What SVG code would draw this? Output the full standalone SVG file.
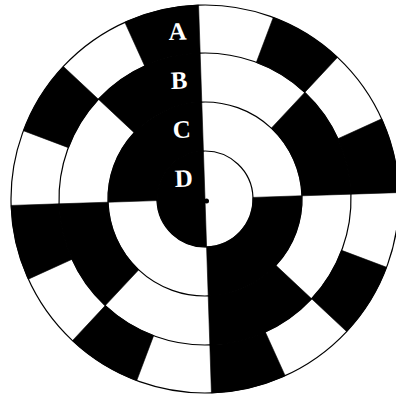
<svg xmlns="http://www.w3.org/2000/svg" width="396" height="396" viewBox="0 0 396 396">
  <style>
    .blk { fill: #000; stroke: #000; stroke-width: 0.6; stroke-linejoin: round; }
    .ring { fill: none; stroke: #000; stroke-width: 1.2; }
    .lbl { fill: #fff; font-family: "Liberation Serif", "Times New Roman", serif; font-weight: bold; font-size: 25px; text-anchor: middle; }
  </style>
  <rect x="0" y="0" width="396" height="396" fill="#fff"/>
  <g transform="translate(205,199) rotate(-1.9)">
    <g id="ringA">
      <path class="blk" d="M194,0 A194,194 0 0 0 179.23,-74.24 L134.89,-55.87 A146,146 0 0 1 146,0 Z"/>
      <path class="blk" d="M137.18,-137.18 A194,194 0 0 0 74.24,-179.23 L55.87,-134.89 A146,146 0 0 1 103.24,-103.24 Z"/>
      <path class="blk" d="M0,-194 A194,194 0 0 0 -74.24,-179.23 L-55.87,-134.89 A146,146 0 0 1 0,-146 Z"/>
      <path class="blk" d="M-137.18,-137.18 A194,194 0 0 0 -179.23,-74.24 L-134.89,-55.87 A146,146 0 0 1 -103.24,-103.24 Z"/>
      <path class="blk" d="M-194,0 A194,194 0 0 0 -179.23,74.24 L-134.89,55.87 A146,146 0 0 1 -146,0 Z"/>
      <path class="blk" d="M-137.18,137.18 A194,194 0 0 0 -74.24,179.23 L-55.87,134.89 A146,146 0 0 1 -103.24,103.24 Z"/>
      <path class="blk" d="M0,194 A194,194 0 0 0 74.24,179.23 L55.87,134.89 A146,146 0 0 1 0,146 Z"/>
      <path class="blk" d="M137.18,137.18 A194,194 0 0 0 179.23,74.24 L134.89,55.87 A146,146 0 0 1 103.24,103.24 Z"/>
    </g>
    <g id="ringB">
      <path class="blk" d="M146,0 A146,146 0 0 0 103.24,-103.24 L68.59,-68.59 A97,97 0 0 1 97,0 Z"/>
      <path class="blk" d="M0,-146 A146,146 0 0 0 -103.24,-103.24 L-68.59,-68.59 A97,97 0 0 1 0,-97 Z"/>
      <path class="blk" d="M-146,0 A146,146 0 0 0 -103.24,103.24 L-68.59,68.59 A97,97 0 0 1 -97,0 Z"/>
      <path class="blk" d="M0,146 A146,146 0 0 0 103.24,103.24 L68.59,68.59 A97,97 0 0 1 0,97 Z"/>
    </g>
    <g id="ringC">
      <path class="blk" d="M0,-97 A97,97 0 0 0 -97,0 L-48,0 A48,48 0 0 1 0,-48 Z"/>
      <path class="blk" d="M0,97 A97,97 0 0 0 97,0 L48,0 A48,48 0 0 1 0,48 Z"/>
    </g>
    <g id="ringD">
      <path class="blk" d="M0,-48 A48,48 0 0 0 0,48 Z"/>
    </g>
    <g id="circles">
      <circle class="ring" cx="0" cy="0" r="194"/>
      <circle class="ring" cx="0" cy="0" r="146"/>
      <circle class="ring" cx="0" cy="0" r="97"/>
      <circle class="ring" cx="0" cy="0" r="48"/>
    </g>
    <g id="labels">
      <text class="lbl" x="-22" y="-160">A</text>
      <text class="lbl" x="-22" y="-111">B</text>
      <text class="lbl" x="-21" y="-62">C</text>
      <text class="lbl" x="-20.5" y="-13">D</text>
    </g>
  </g>
  <circle id="centre-dot" cx="206.5" cy="201" r="2.5" fill="#000"/>
</svg>
